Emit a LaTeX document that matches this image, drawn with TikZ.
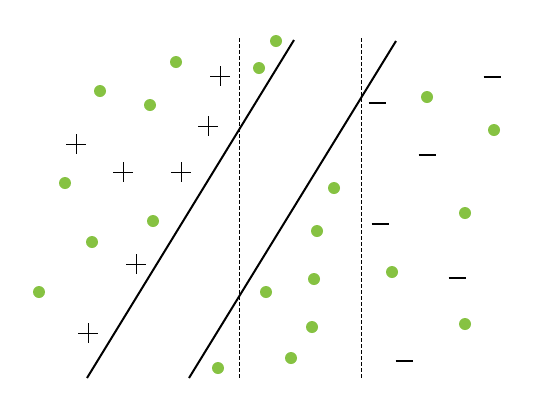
\documentclass[tikz,border=0pt]{standalone}
\usepackage{xcolor}
\usetikzlibrary{positioning}

\definecolor{dotgreen}{RGB}{134,194,66}

\begin{document}
\begin{tikzpicture}[x=1pt, y=-1pt,
    dot/.style={fill=dotgreen, draw=none},
    plusmark/.style={line width=0.9pt},
    minusmark/.style={line width=1.8pt},
    margin/.style={line width=0.9pt, dash pattern=on 3.5pt off 2.5pt},
    separator/.style={line width=2pt}]
  \useasboundingbox (0,0) rectangle (538,416);

  % green points
  \foreach \x/\y in {276/41, 259/68, 176/62, 100/91, 150/105, 65/183, 153/221,
                     92/242, 39/292, 334/188, 317/231, 266/292, 314/279, 312/327,
                     291/358, 218/368, 427/97, 494/130, 465/213, 392/272, 465/324}
    \fill[dot] (\x,\y) circle (6);

  % positive class
  \foreach \x/\y in {220/76, 208/126, 76/144, 123/172, 181/172, 136/264, 88/333}
    \draw[plusmark] (\x-10,\y) -- (\x+10,\y) (\x,\y-10) -- (\x,\y+10);

  % negative class
  \foreach \x/\y in {492/77, 377/103, 427/155, 380/224, 457/278, 404/361}
    \draw[minusmark] (\x-8.5,\y) -- (\x+8.5,\y);

  % margins
  \coordinate (lmtop) at (239,38);
  \coordinate (lmbot) at (239,378);
  \coordinate (rmtop) at (361,38);
  \coordinate (rmbot) at (361,378);
  \draw[margin] (lmtop) -- (lmbot);
  \draw[margin] (rmtop) -- (rmbot);

  % separating lines
  \coordinate (lsbot) at (87,378);
  \coordinate (lstop) at (294,40);
  \coordinate (rsbot) at (189,378);
  \coordinate (rstop) at (396,41);
  \draw[separator] (lsbot) -- (lstop);
  \draw[separator] (rsbot) -- (rstop);
\end{tikzpicture}
\end{document}
